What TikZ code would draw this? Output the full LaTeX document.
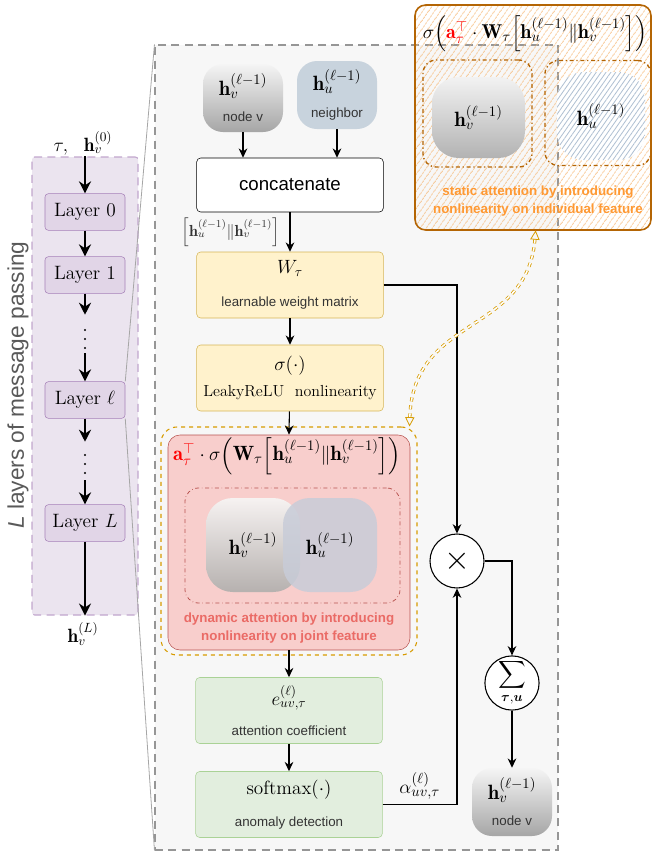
\documentclass[tikz,border=0pt]{standalone}
\usepackage{amsmath,amssymb}
\usepackage{fontspec}
\newfontfamily\arial{Liberation Sans}
\usepackage{tikz}
\usetikzlibrary{positioning,arrows.meta,calc,patterns.meta}

\definecolor{framefill}{RGB}{247,247,247}
\definecolor{framedraw}{RGB}{150,150,150}
\definecolor{purplefill}{RGB}{225,213,231}
\definecolor{purpledraw}{RGB}{166,128,184}
\definecolor{yellowfill}{RGB}{255,242,204}
\definecolor{yellowdraw}{RGB}{214,182,86}
\definecolor{greenfill}{RGB}{226,238,222}
\definecolor{greendraw}{RGB}{170,210,150}
\definecolor{redfill}{RGB}{248,206,204}
\definecolor{reddraw}{RGB}{184,84,80}
\definecolor{redtext}{RGB}{234,107,102}
\definecolor{dynorange}{RGB}{215,155,0}
\definecolor{statdraw}{RGB}{180,101,4}
\definecolor{stattext}{RGB}{255,153,51}
\definecolor{stathatch}{RGB}{245,180,110}
\definecolor{nbfill}{RGB}{200,211,221}
\definecolor{nbhatch}{RGB}{175,192,210}
\definecolor{jointfill}{RGB}{200,204,216}

\newcommand{\sflabel}[1]{{\arial\fontsize{10}{12}\selectfont\color{black!80}#1}}
\newcommand{\hv}{\mathbf{h}_v^{(\ell-1)}}
\newcommand{\hu}{\mathbf{h}_u^{(\ell-1)}}

\tikzset{
flow/.style={draw=black, line width=0.8pt, -{Stealth[length=7pt,width=6.5pt]}},
bigflow/.style={draw=black, line width=1.6pt, -{Stealth[length=9pt,width=9pt]}},
layerbox/.style={draw=purpledraw, fill=purplefill, rounded corners=2.5pt,
  minimum width=60pt, minimum height=27.5pt, font=\fontsize{14.5}{17}\selectfont},
dotbox/.style={minimum height=28.5pt, minimum width=10pt, inner sep=0pt},
mainbox/.style={rounded corners=3pt, minimum width=140pt, minimum height=49.5pt,
  align=center, inner sep=0pt, font=\Large},
yellowbox/.style={mainbox, fill=yellowfill, draw=yellowdraw},
greenbox/.style={mainbox, fill=greenfill, draw=greendraw},
blob/.style={rounded corners=15pt, minimum width=60pt, minimum height=51pt,
  align=center, inner sep=0pt, font=\fontsize{15.5}{18}\selectfont},
bigblob/.style={rounded corners=20pt, minimum size=70.5pt, inner sep=0pt,
  font=\fontsize{15.5}{18}\selectfont},
formula/.style={font=\fontsize{15.5}{18}\selectfont},
opcircle/.style={circle, draw=black, fill=white, line width=0.8pt,
  minimum size=40.5pt, inner sep=0pt},
note/.style={align=center, font=\arial\bfseries\fontsize{10}{13.5}\selectfont},
}

\begin{document}
\begin{tikzpicture}[x=0.75pt,y=-0.75pt]
\useasboundingbox (0,0) rectangle (652,854);

\node[draw=framedraw, fill=framefill, dash pattern=on 6pt off 4pt, line width=0.8pt,
  minimum width=302.25pt, minimum height=603.75pt] (frame) at (356.5,447.5) {};
\node[draw=purpledraw!70, fill=purplefill!65, dash pattern=on 6pt off 4pt, line width=0.8pt,
  rounded corners=2pt, minimum width=79.5pt, minimum height=343.5pt] (stack) at (85,386) {};

% layer stack
\node[font=\Large] (tau) at (83,143) {$\tau,\ \ \mathbf{h}_v^{(0)}$};
\node[layerbox] (lay0) at (85,212) {Layer 0};
\node[layerbox] (lay1) at (85,275) {Layer 1};
\node[dotbox] (dots1) at (85,334) {};
\node[layerbox] (layl) at (85,400) {Layer $\ell$};
\node[dotbox] (dots2) at (85,461) {};
\node[layerbox] (layL) at (85,523) {Layer $L$};
\node[font=\Large] (hL) at (83,634) {$\mathbf{h}_v^{(L)}$};
\foreach \y in {330,339,348} \fill (85,\y) circle (0.9pt);
\foreach \y in {455,464,473} \fill (85,\y) circle (0.9pt);
\draw[bigflow] (stack.north) -- (lay0);
\draw[bigflow] (lay0) -- (lay1);
\draw[bigflow] (lay1) -- (dots1);
\draw[bigflow] (dots1) -- (layl);
\draw[bigflow] (layl) -- (dots2);
\draw[bigflow] (dots2) -- (layL);
\draw[bigflow] (layL) -- (stack.south);
\node[rotate=90, font=\arial\fontsize{17}{20}\selectfont, text=black!65] (title) at (18,385)
  {\textit{L} layers of message passing};
\draw[black!35, line width=0.6pt] (layl.north east) -- (frame.north west);
\draw[black!35, line width=0.6pt] (layl.south east) -- (frame.south west);

% static attention
\node[draw=statdraw, line width=1.2pt, rounded corners=8pt,
  pattern={Lines[angle=55,distance=4pt,line width=0.55pt]}, pattern color=stathatch,
  minimum width=177pt, minimum height=168.75pt] (stat) at (533,117.5) {};
\node[font=\fontsize{15}{18}\selectfont, inner sep=0pt] (statf) at (535,34)
  {$\sigma\Bigl(\textcolor{red}{\mathbf{a}_\tau^\top}\cdot\mathbf{W}_\tau\Bigl[\hu\|\hv\Bigr]\Bigr)$};
\node[bigblob, top color=black!5, bottom color=black!30, minimum width=69.75pt,
  minimum height=60.75pt] (shv) at (478.5,117.5) {$\hv$};
\node[bigblob, preaction={fill=white}, pattern={Lines[angle=55,distance=3pt,line width=0.6pt]},
  pattern color=nbhatch, minimum size=66pt] (shu) at (601,116) {$\hu$};
\node[draw=statdraw, line width=1pt, dash dot, rounded corners=10pt,
  minimum width=81.75pt, minimum height=80.25pt] (sleft) at (477.5,113.5) {};
\node[draw=statdraw, line width=1pt, dash dot, rounded corners=10pt,
  minimum width=79.5pt, minimum height=78.75pt] (sright) at (598,113) {};
\node[note, text=stattext] (stattxt) at (538,201)
  {static attention by introducing\\nonlinearity on individual feature};

% main flow
\node[blob, top color=black!4, bottom color=black!35] (hvin) at (243,98)
  {$\hv$\\[2pt]\sflabel{node v}};
\node[blob, fill=nbfill] (huin) at (337,95) {$\hu$\\[2pt]\sflabel{neighbor}};
\node[mainbox, draw=black, fill=white, minimum height=40.5pt,
  font=\arial\fontsize{14}{16}\selectfont] (concat) at (290,185) {concatenate};
\node[yellowbox] (wt) at (290,285) {$W_\tau$\\[7pt]\sflabel{learnable weight matrix}};
\node[yellowbox] (sig) at (290,378)
  {$\sigma(\cdot)$\\[2pt]{\fontsize{12}{14}\selectfont LeakyReLU\ \ nonlinearity}};
\draw[flow] (hvin.south) -- (hvin.south |- concat.north);
\draw[flow] (huin.south) -- (huin.south |- concat.north);
\draw[flow] (concat) -- (wt) node[midway, left=4pt, font=\large, text=black!80]
  {$\left[\hu\|\hv\right]$};
\draw[flow] (wt) -- (sig);

% dynamic attention
\node[draw=dynorange, dashed, line width=0.8pt, rounded corners=12pt,
  minimum width=192pt, minimum height=171pt] (dyn) at (289,541) {};
\node[draw=reddraw, fill=redfill, rounded corners=9pt,
  minimum width=181.5pt, minimum height=161.25pt] (joint) at (289,542.5) {};
\node[formula] (jointf) at (287,456)
  {$\textcolor{red}{\mathbf{a}_\tau^\top}\cdot\sigma\Bigl(\mathbf{W}_\tau\Bigl[\hu\|\hv\Bigr]\Bigr)$};
\node[draw=reddraw, dash dot, line width=0.6pt, rounded corners=10pt,
  minimum width=161.25pt, minimum height=86.25pt] (jbox) at (292.5,545.5) {};
\node[bigblob, top color={rgb,255:red,246;green,242;blue,241}, bottom color={rgb,255:red,182;green,177;blue,175}]
  (jhv) at (253,545) {};
\node[bigblob, fill=jointfill, fill opacity=0.85] (jhu) at (330,545) {};
\node[formula] at (jhv) {$\hv$};
\node[formula] at (jhu) {$\hu$};
\node[note, text=redtext] (jointtxt) at (289,628)
  {dynamic attention by introducing\\nonlinearity on joint feature};
\draw[flow] (sig) -- (joint.north);

\node[greenbox] (coef) at (289,710.5) {$e_{uv,\tau}^{(\ell)}$\\[4pt]\sflabel{attention coefficient}};
\node[greenbox] (soft) at (289,804.5) {$\mathrm{softmax}(\cdot)$\\[6pt]\sflabel{anomaly detection}};
\draw[flow] (joint) -- (coef);
\draw[flow] (coef) -- (soft);

\node[opcircle, font=\fontsize{24}{24}\selectfont] (times) at (457,561) {$\times$};
\node[opcircle, font=\Large] (sum) at (512,683) {$\displaystyle\sum_{\boldsymbol{\tau},\boldsymbol{u}}$};
\node[blob, top color=black!4, bottom color=black!35] (hvout) at (512,802)
  {$\hv$\\[2pt]\sflabel{node v}};
\draw[flow] (wt.east) -| (times.north);
\draw[flow] (soft.east) -| (times.south) node[pos=0.25, above, formula] {$\alpha_{uv,\tau}^{(\ell)}$};
\draw[flow] (times.east) -| (sum.north);
\draw[flow] (sum) -- (hvout);

\draw[dynorange, dashed, double, double distance=1.2pt, line width=0.6pt,
  {Triangle[open,length=7pt,width=7pt]}-{Triangle[open,length=7pt,width=7pt]}]
  ([xshift=2pt]stat.south) .. controls (527,335) and (413,315) .. ([xshift=-6pt]dyn.north east);
\end{tikzpicture}
\end{document}
